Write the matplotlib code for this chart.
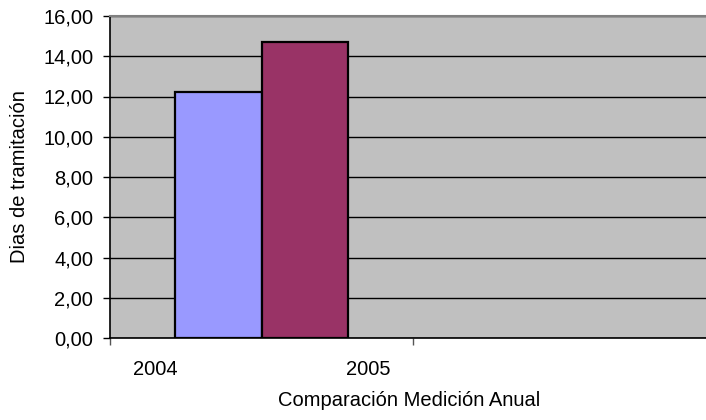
import matplotlib
matplotlib.use("Agg")
import matplotlib.pyplot as plt
from matplotlib.ticker import FixedLocator

plt.rcParams['font.family'] = ['Liberation Sans', 'DejaVu Sans']

years = ["2004", "2005"]
values = [12.20, 14.73]
colors = ["#9999FF", "#993366"]
yticks = [0, 2, 4, 6, 8, 10, 12, 14, 16]
ylabels = ["0,00", "2,00", "4,00", "6,00", "8,00", "10,00", "12,00", "14,00", "16,00"]

FS = 14.5
W, H = 706, 420
fig = plt.figure(figsize=(W/100, H/100), dpi=100)
left, right, top, bottom = 110, 716, 16, 338
ax = fig.add_axes([left/W, (H-bottom)/H, (right-left)/W, (bottom-top)/H])
ax.set_facecolor("#C0C0C0")

bw = 0.2855
xs = [0.5 - bw/2, 0.5 + bw/2]
ax.bar(xs, values, width=bw, color=colors, edgecolor="black", linewidth=1.6, zorder=3)

ax.set_xlim(0, 2)
ax.set_ylim(0, 16)
ax.set_yticks(yticks)
ax.set_yticklabels(ylabels, fontsize=FS)
ax.yaxis.grid(True, color="black", linewidth=1.0, zorder=1)
ax.set_axisbelow(True)

ax.xaxis.set_major_locator(FixedLocator([0, 1, 2]))
ax.set_xticklabels(["", "", ""])
ax.xaxis.set_minor_locator(FixedLocator([0.1485, 0.851]))
ax.set_xticklabels(years, minor=True, fontsize=FS)
ax.tick_params(axis="x", which="minor", length=0, pad=16)
ax.tick_params(axis="x", which="major", length=5, width=1, color="#555555")
ax.tick_params(axis="y", length=5, width=1, pad=7)

for s in ["left", "bottom"]:
    ax.spines[s].set_color("black")
    ax.spines[s].set_linewidth(1.2)
ax.spines["top"].set_color("#808080")
ax.spines["top"].set_linewidth(1.5)
ax.spines["right"].set_visible(False)

fig.text(409/W, 1 - 401/H, "Comparación Medición Anual", ha="center", va="center", fontsize=FS)
fig.text(20/W, 1 - 177/H, "Dias de tramitación", ha="center", va="center", rotation=90, fontsize=FS)

fig.savefig("out.png", dpi=100)
